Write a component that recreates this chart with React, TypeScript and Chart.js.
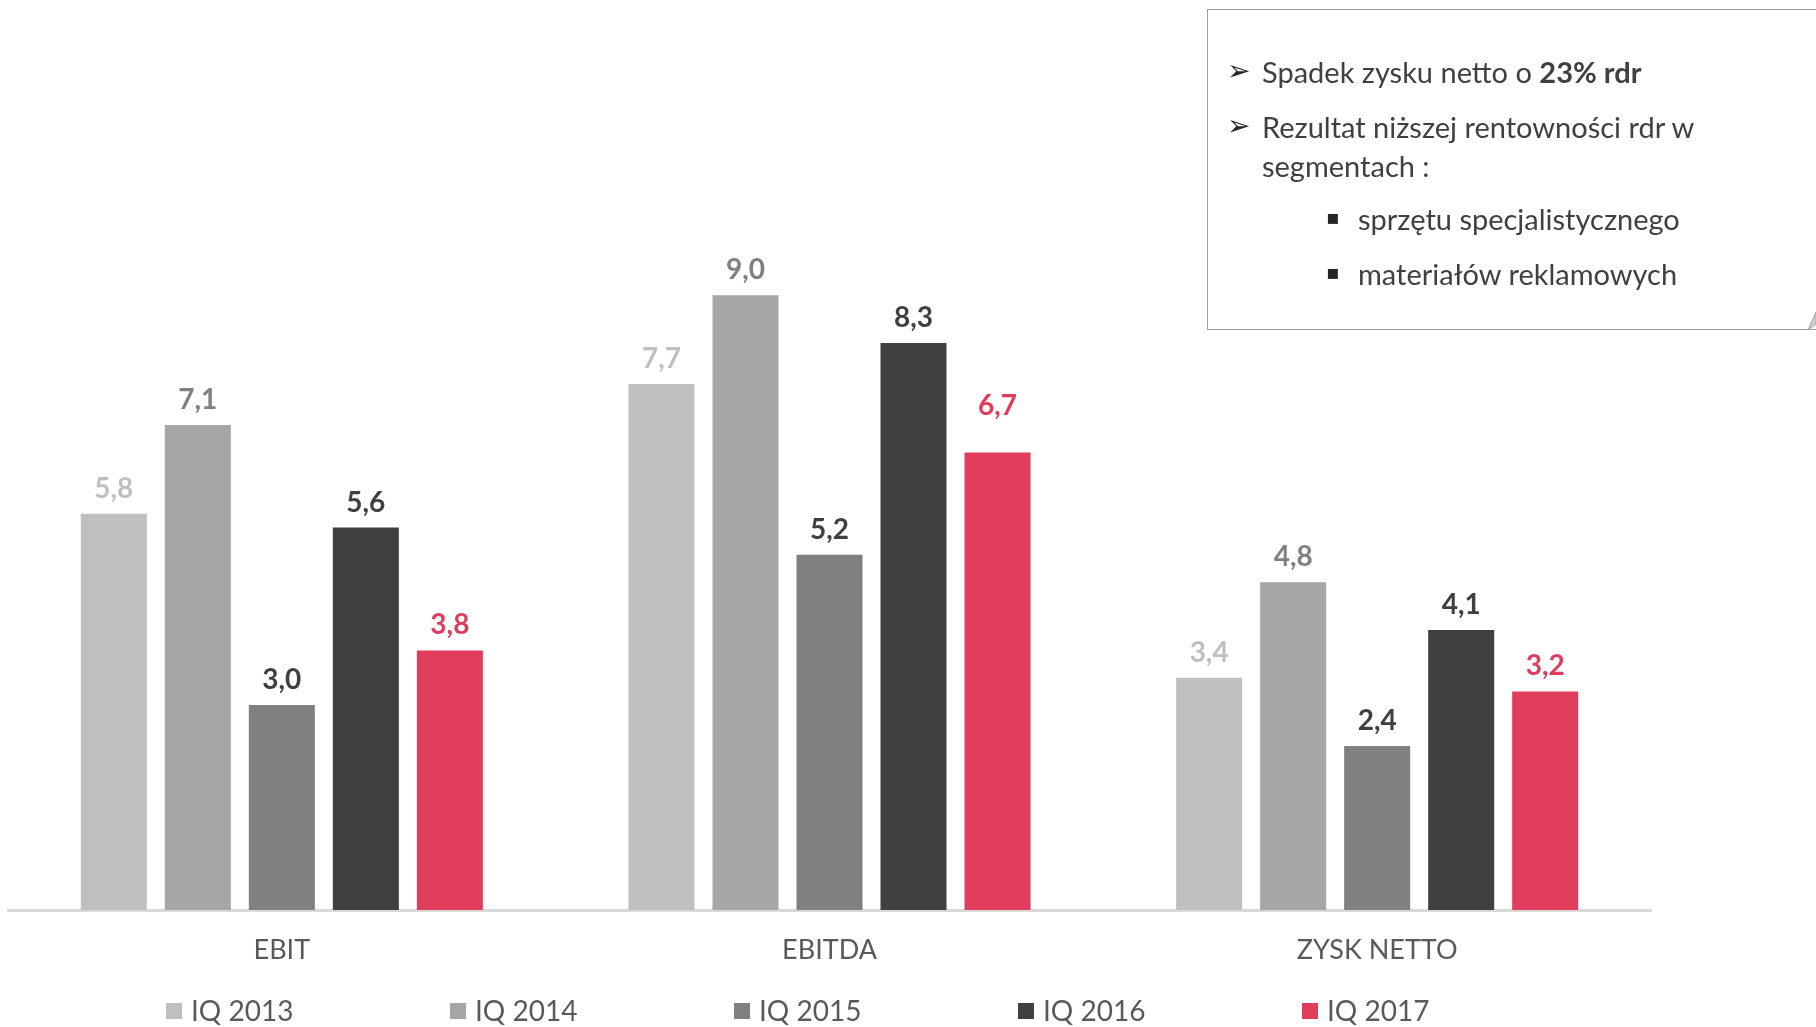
import React, { useEffect, useRef } from 'react';
import { Chart, registerables } from 'chart.js';

Chart.register(...registerables);

const categories = ['EBIT', 'EBITDA', 'ZYSK NETTO'];
const seriesNames = ['IQ 2013', 'IQ 2014', 'IQ 2015', 'IQ 2016', 'IQ 2017'];
const iq2013 = [5.8, 7.7, 3.4];
const iq2014 = [7.1, 9.0, 4.8];
const iq2015 = [3.0, 5.2, 2.4];
const iq2016 = [5.6, 8.3, 4.1];
const iq2017 = [3.8, 6.7, 3.2];
const seriesValues = [iq2013, iq2014, iq2015, iq2016, iq2017];
const barColors = ['#BFBFBF', '#A6A6A6', '#808080', '#404040', '#E03C5C'];
const labelColors = ['#BFBFBF', '#808080', '#404040', '#404040', '#E03C5C'];

const FONT = 'Lato, "Open Sans", sans-serif';

const fmt = (v: number) => v.toFixed(1).replace('.', ',');

// extra lift (px) for individual value labels, as placed in the original slide
const labelLift = (dsIndex: number, catIndex: number) =>
  dsIndex === 4 && catIndex === 1 ? 21 : 0;

const valueLabelPlugin = {
  id: 'valueLabels',
  afterDatasetsDraw(chart: any) {
    const ctx = chart.ctx;
    ctx.save();
    ctx.font = `bold 28px ${FONT}`;
    ctx.textAlign = 'center';
    ctx.textBaseline = 'alphabetic';
    chart.data.datasets.forEach((ds: any, i: number) => {
      const meta = chart.getDatasetMeta(i);
      meta.data.forEach((bar: any, j: number) => {
        ctx.fillStyle = labelColors[i];
        ctx.fillText(fmt(ds.data[j]), bar.x, bar.y - 16 - labelLift(i, j));
      });
    });
    ctx.restore();
  },
};

const legendPlugin = {
  id: 'customLegend',
  afterDraw(chart: any) {
    const ctx = chart.ctx;
    ctx.save();
    ctx.font = `28px ${FONT}`;
    ctx.textBaseline = 'middle';
    ctx.textAlign = 'left';
    const y = 1011;
    chart.data.datasets.forEach((ds: any, i: number) => {
      const x = 166 + i * 284;
      ctx.fillStyle = ds.backgroundColor;
      ctx.fillRect(x, y - 8, 16, 16);
      ctx.fillStyle = '#595959';
      ctx.fillText(ds.label, x + 25, y + 1);
    });
    ctx.restore();
  },
};

export default function App() {
  const canvasRef = useRef<HTMLCanvasElement | null>(null);

  useEffect(() => {
    const canvas = canvasRef.current;
    if (!canvas) return;
    const chart = new Chart(canvas, {
      type: 'bar',
      data: {
        labels: categories,
        datasets: seriesNames.map((name, i) => ({
          label: name,
          data: seriesValues[i],
          backgroundColor: barColors[i],
          borderWidth: 0,
          categoryPercentage: 0.767,
          barPercentage: 0.786,
        })),
      },
      options: {
        animation: false,
        responsive: false,
        devicePixelRatio: 1,
        layout: { padding: { top: 227, left: 8, right: 165, bottom: 0 } },
        plugins: {
          legend: { display: false },
          tooltip: { enabled: false },
        },
        scales: {
          x: {
            grid: { display: false, drawTicks: false },
            border: { display: true, color: '#D9D9D9', width: 3 },
            ticks: {
              color: '#595959',
              font: { family: FONT, size: 27 },
              padding: 24,
            },
            afterFit: (scale: any) => {
              scale.height = 117;
            },
          },
          y: {
            display: false,
            min: 0,
            max: 10,
          },
        },
      },
      plugins: [valueLabelPlugin, legendPlugin],
    });
    return () => chart.destroy();
  }, []);

  const textStyle: React.CSSProperties = {
    position: 'absolute',
    fontFamily: FONT,
    fontSize: 29,
    lineHeight: '34px',
    color: '#404040',
    whiteSpace: 'nowrap',
  };
  const arrowStyle: React.CSSProperties = {
    position: 'absolute',
    fontFamily: '"DejaVu Sans", sans-serif',
    fontSize: 28,
    lineHeight: '34px',
    color: '#262626',
  };
  const bulletStyle: React.CSSProperties = {
    position: 'absolute',
    fontFamily: '"DejaVu Sans", sans-serif',
    fontSize: 20,
    lineHeight: '34px',
    color: '#262626',
  };

  return (
    <div
      style={{
        position: 'absolute',
        left: 0,
        top: 0,
        width: 1816,
        height: 1027,
        overflow: 'hidden',
        background: '#ffffff',
      }}
    >
      <canvas
        ref={canvasRef}
        width={1816}
        height={1027}
        style={{ position: 'absolute', left: 0, top: 0, width: 1816, height: 1027 }}
      />
      <div
        style={{
          position: 'absolute',
          left: 1207,
          top: 9,
          width: 660,
          height: 321,
          border: '1px solid #A0A0A0',
          boxSizing: 'border-box',
        }}
      />
      <svg
        style={{ position: 'absolute', left: 1798, top: 310 }}
        width={18}
        height={22}
      >
        <polygon points="18,2 18,14 10,20" fill="#D0D0D0" stroke="#A0A0A0" strokeWidth={1} />
      </svg>
      <span style={{ ...arrowStyle, left: 1227, top: 54 }}>➢</span>
      <span style={{ ...textStyle, left: 1262, top: 55 }}>
        Spadek zysku netto o <b>23% rdr</b>
      </span>
      <span style={{ ...arrowStyle, left: 1227, top: 109 }}>➢</span>
      <span style={{ ...textStyle, left: 1262, top: 110 }}>Rezultat niższej rentowności rdr w</span>
      <span style={{ ...textStyle, left: 1262, top: 149 }}>segmentach :</span>
      <span style={{ ...bulletStyle, left: 1326, top: 200 }}>▪</span>
      <span style={{ ...textStyle, left: 1358, top: 202 }}>sprzętu specjalistycznego</span>
      <span style={{ ...bulletStyle, left: 1326, top: 255 }}>▪</span>
      <span style={{ ...textStyle, left: 1358, top: 257 }}>materiałów reklamowych</span>
    </div>
  );
}
